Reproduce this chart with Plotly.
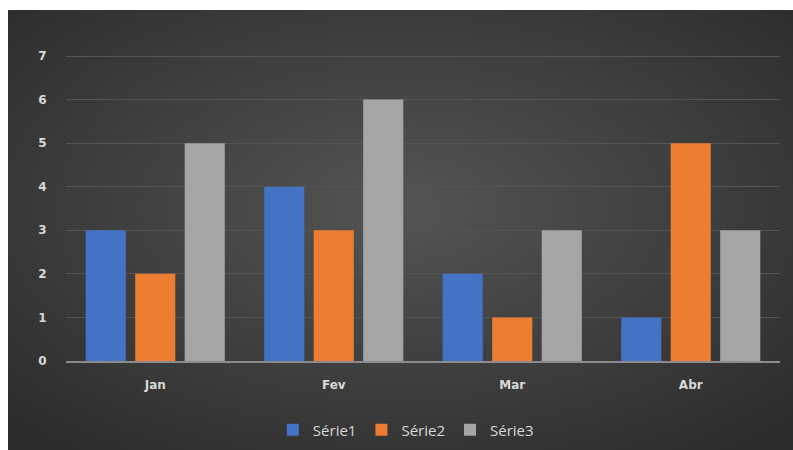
import base64
import plotly.graph_objects as go

# Chart data
months = ["Jan", "Fev", "Mar", "Abr"]
serie1 = [3, 4, 2, 1]
serie2 = [2, 3, 1, 5]
serie3 = [5, 6, 3, 3]
series_names = ["Série1", "Série2", "Série3"]
series_colors = ["#4472c4", "#ed7d31", "#a5a5a5"]

W, H = 793, 450
L, R, T, B = 66, 13, 54, 89
PW, PH = W - L - R, H - T - B
Y_TOP = 7 * PH / (PH - 2)   # leaves room so the top gridline is drawn

# Dark radial-gradient backdrop for the chart area
bg_svg = """<svg xmlns='http://www.w3.org/2000/svg' width='783' height='440' viewBox='0 0 783 440' preserveAspectRatio='none'>
<defs><radialGradient id='g' cx='50%' cy='45%' r='70%'>
<stop offset='0%' stop-color='#545454'/>
<stop offset='100%' stop-color='#2c2c2c'/>
</radialGradient></defs>
<rect x='0' y='0' width='783' height='440' fill='url(#g)'/>
</svg>"""
bg_uri = "data:image/svg+xml;base64," + base64.b64encode(bg_svg.encode()).decode()

fig = go.Figure()
for name, vals, col in zip(series_names, [serie1, serie2, serie3], series_colors):
    fig.add_trace(go.Bar(
        x=months, y=vals, name=name,
        marker=dict(color=col, line=dict(width=0)),
    ))

fig.update_layout(
    width=W, height=H,
    paper_bgcolor="white",
    plot_bgcolor="rgba(0,0,0,0)",
    margin=dict(l=L, r=R, t=T, b=B, autoexpand=False),
    barmode="group",
    bargap=0.168,
    bargroupgap=0.19,
    showlegend=True,
    legend=dict(
        orientation="h", x=0.476, xanchor="center",
        yref="container", y=1 - 430 / H, yanchor="middle",
        font=dict(family="Open Sans", size=15, color="#d9d9d9"),
        itemwidth=30, tracegroupgap=0,
        bgcolor="rgba(0,0,0,0)",
    ),
    images=[dict(
        source=bg_uri, xref="paper", yref="paper",
        x=(8 - L) / PW, y=(T + PH - 10) / PH,
        sizex=(W - 8) / PW, sizey=(H - 10) / PH,
        xanchor="left", yanchor="top", sizing="stretch", layer="below",
    )],
    font=dict(family="Open Sans", color="#d9d9d9"),
)

fig.update_xaxes(
    showgrid=False, showline=True, linecolor="#8c8c8c", linewidth=1.5,
    ticks="outside", ticklen=12, tickcolor="rgba(0,0,0,0)",
    tickfont=dict(family="DejaVu Sans", size=12, color="#d9d9d9", weight="bold"),
    zeroline=False,
)
fig.update_yaxes(
    range=[0, Y_TOP], tickvals=list(range(8)), showgrid=True, gridcolor="#555555", gridwidth=1,
    showline=False, zeroline=False,
    ticks="outside", ticklen=16, tickcolor="rgba(0,0,0,0)",
    tickfont=dict(family="DejaVu Sans", size=12, color="#d9d9d9", weight="bold"),
)

fig.write_html("out.html")
